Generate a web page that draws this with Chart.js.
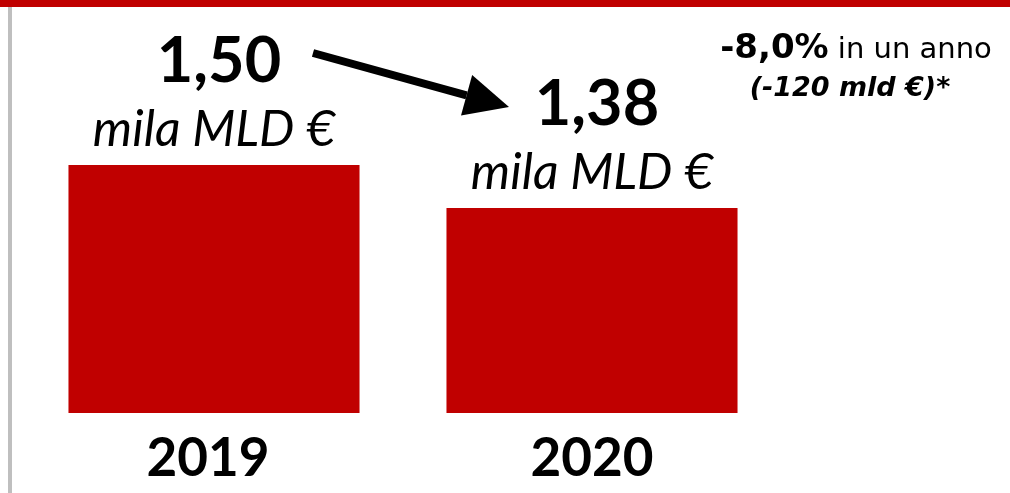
<!DOCTYPE html>
<html lang="it">
<head>
  <meta charset="UTF-8">
  <title>Valore 2019-2020</title>
  <script src="https://cdn.jsdelivr.net/npm/chart.js"></script>
  <style>
    html, body { margin: 0; padding: 0; background: #fff; }
    #wrap { width: 1010px; height: 493px; position: relative; }
  </style>
</head>
<body>
  <div id="wrap"><canvas id="chart"></canvas></div>

  <script>
    // dati
    const years = ['2019', '2020'];
    const values = [1.50, 1.38];
    const valueLabels = ['1,50', '1,38'];
    const unitLabel = 'mila MLD €';
    const changeBold = '-8,0%';
    const changeText = ' in un anno';
    const changeAbs = '(-120 mld €)*';

    const RED = '#c00000';
    const FONT = 'Lato, "DejaVu Sans", sans-serif';
    const NOTE_FONT = '"DejaVu Sans", sans-serif';

    // cornice: banda rossa in alto, linea grigia a sinistra
    const framePlugin = {
      id: 'frame',
      beforeDraw(chart) {
        const c = chart.ctx;
        c.save();
        c.fillStyle = RED;
        c.fillRect(0, 0, chart.width, 7);
        c.fillStyle = '#bfbfbf';
        c.fillRect(8, 7, 4, chart.height - 7);
        c.restore();
      }
    };

    // etichette, freccia e nota
    const labelPlugin = {
      id: 'labels',
      afterDatasetsDraw(chart) {
        const c = chart.ctx;
        const meta = chart.getDatasetMeta(0);
        const yBase = chart.scales.y.getPixelForValue(chart.scales.y.min);
        c.save();
        c.fillStyle = '#000';
        c.textAlign = 'center';
        c.textBaseline = 'alphabetic';
        meta.data.forEach((bar, i) => {
          c.font = 'bold 63px ' + FONT;
          c.fillText(valueLabels[i], bar.x + 5, bar.y - 83);
          c.font = 'italic 50px ' + FONT;
          c.fillText(unitLabel, bar.x, bar.y - 19);
          c.font = 'bold 53px ' + FONT;
          c.fillText(years[i], bar.x - (i === 0 ? 6 : 0), yBase + 63);
        });

        // freccia
        const b0 = meta.data[0], b1 = meta.data[1];
        const x0 = b0.x + 99, y0 = b0.y - 112;
        const x1 = b1.x - 83, y1 = b1.y - 101;
        const ang = Math.atan2(y1 - y0, x1 - x0);
        const head = 44, hw = 21;
        const bx = x1 - head * Math.cos(ang), by = y1 - head * Math.sin(ang);
        c.strokeStyle = '#000';
        c.lineWidth = 8;
        c.beginPath();
        c.moveTo(x0, y0);
        c.lineTo(bx, by);
        c.stroke();
        c.beginPath();
        c.moveTo(x1, y1);
        c.lineTo(bx + hw * Math.sin(ang), by - hw * Math.cos(ang));
        c.lineTo(bx - hw * Math.sin(ang), by + hw * Math.cos(ang));
        c.closePath();
        c.fill();

        // nota variazione
        const cx = 856;
        c.textAlign = 'left';
        c.font = 'bold 34px ' + NOTE_FONT;
        const w1 = c.measureText(changeBold).width;
        c.font = '29px ' + NOTE_FONT;
        const w2 = c.measureText(changeText).width;
        const sx = cx - (w1 + w2) / 2;
        c.font = 'bold 34px ' + NOTE_FONT;
        c.fillText(changeBold, sx, 58);
        c.font = '29px ' + NOTE_FONT;
        c.fillText(changeText, sx + w1, 58);
        c.textAlign = 'center';
        c.font = 'italic bold 27px ' + NOTE_FONT;
        c.fillText(changeAbs, cx - 6, 96);
        c.restore();
      }
    };

    new Chart(document.getElementById('chart'), {
      type: 'bar',
      data: {
        labels: years,
        datasets: [{
          data: values,
          backgroundColor: RED,
          borderWidth: 0,
          barPercentage: 1,
          categoryPercentage: 0.77
        }]
      },
      options: {
        responsive: true,
        maintainAspectRatio: false,
        animation: false,
        layout: { padding: { left: 25, top: 165, right: 229, bottom: 80 } },
        plugins: { legend: { display: false }, tooltip: { enabled: false } },
        scales: {
          x: { display: false },
          y: { display: false, min: 0.808, max: 1.5 }
        }
      },
      plugins: [framePlugin, labelPlugin]
    });
  </script>
</body>
</html>
